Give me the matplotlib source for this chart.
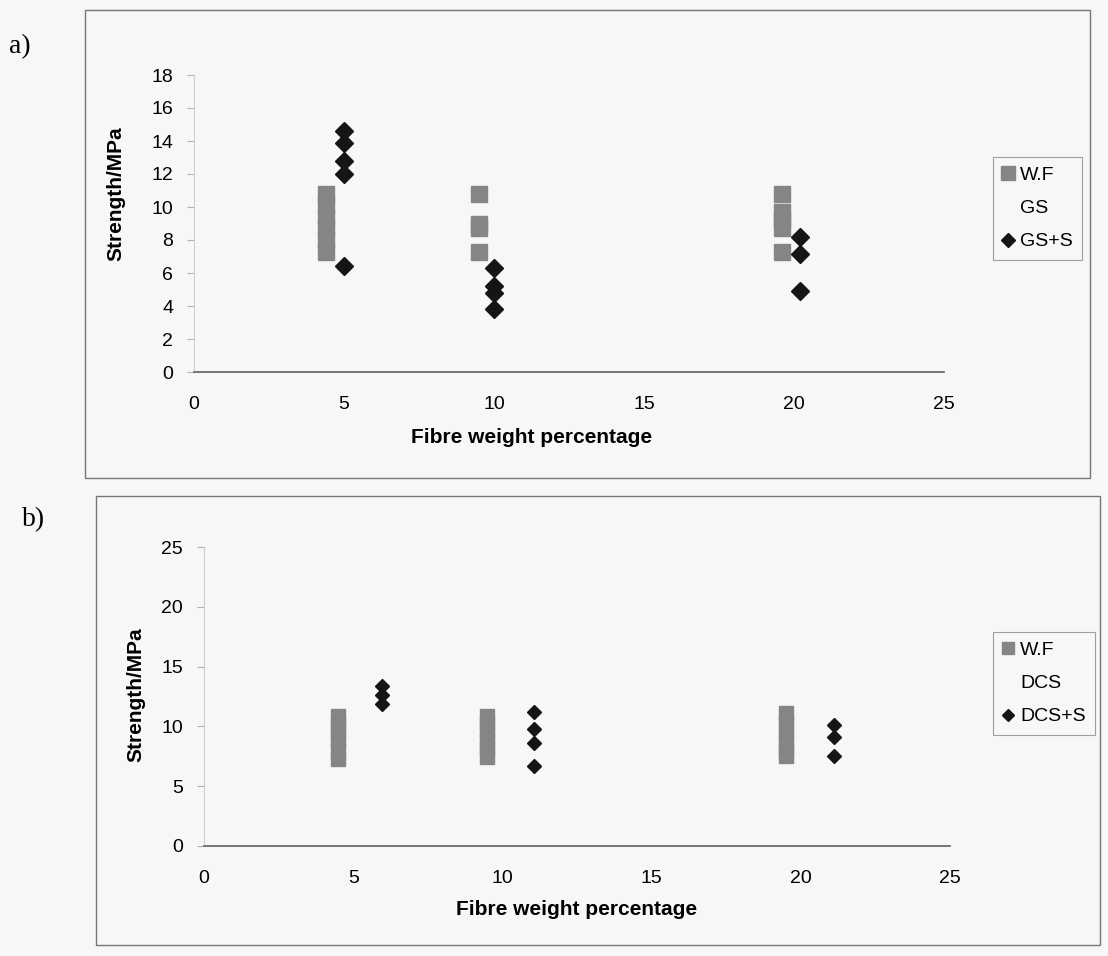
import matplotlib.pyplot as plt
from matplotlib.patches import Rectangle

plt.rcParams['font.family'] = ['Liberation Sans', 'DejaVu Sans']

W, H = 1108, 956

# panel a) - untreated fibre vs GS treated
a_wf_pos = [4.4, 9.5, 19.6]
a_wf_vals = [[10.8, 10.1, 9.4, 8.7, 8.0, 7.3],
             [10.8, 9.0, 8.7, 7.25],
             [10.8, 9.7, 9.2, 8.7, 7.25]]
a_gs_pos = []
a_gs_vals = []
a_gss_pos = [5.0, 10.0, 20.2]
a_gss_vals = [[14.6, 13.9, 12.8, 12.0, 6.4],
              [6.3, 5.2, 4.8, 3.8],
              [8.2, 7.15, 4.9]]

# panel b) - untreated fibre vs DCS treated
b_wf_pos = [4.5, 9.5, 19.5]
b_wf_vals = [[10.9, 10.2, 9.5, 8.8, 8.0, 7.3],
             [10.9, 10.2, 9.5, 8.8, 8.1, 7.4],
             [11.1, 10.3, 9.5, 8.7, 8.0, 7.5]]
b_dcs_pos = []
b_dcs_vals = []
b_dcss_pos = [5.95, 11.05, 21.1]
b_dcss_vals = [[13.4, 12.6, 11.9],
               [11.2, 9.8, 8.6, 6.7],
               [10.1, 9.1, 7.5]]

a_yticks = list(range(0, 19, 2))
b_yticks = list(range(0, 26, 5))
xticks = list(range(0, 26, 5))


def flat(pos, vals):
    xs, ys = [], []
    for p, v in zip(pos, vals):
        xs += [p] * len(v)
        ys += v
    return xs, ys


def fx(px):
    return px / W


def fy(py):
    return 1 - py / H


def box(fig, x0, y0, x1, y1):
    fig.patches.append(Rectangle((fx(x0), fy(y1)), fx(x1) - fx(x0), fy(y0) - fy(y1),
                                 transform=fig.transFigure, fill=False,
                                 edgecolor='#777777', lw=1.0))


def panel(fig, rect, wf, mid, treated, names, yticks, ylim, sq, dm, ylab_xy, xlab_xy, leg_xy):
    ax = fig.add_axes(rect)
    ax.patch.set_alpha(0)
    x, y = flat(*wf)
    ax.plot(x, y, ls='none', marker='s', ms=sq, mfc='#858585', mec='#858585',
            label=names[0])
    x, y = flat(*mid)
    ax.plot(x, y, ls='none', marker='none', label=names[1])
    x, y = flat(*treated)
    ax.plot(x, y, ls='none', marker='D', ms=dm, mfc='#151515', mec='#151515',
            label=names[2])
    ax.set_xlim(0, 25)
    ax.set_ylim(*ylim)
    ax.set_xticks(xticks)
    ax.set_yticks(yticks)
    for s in ['top', 'right']:
        ax.spines[s].set_visible(False)
    ax.spines['left'].set_color('#d0d0d0')
    ax.spines['bottom'].set_color('#606060')
    ax.spines['bottom'].set_linewidth(1.2)
    ax.tick_params(axis='x', length=0, pad=17, labelsize=14)
    ax.tick_params(axis='y', length=5, color='#b0b0b0', pad=10, labelsize=14)
    ax.set_ylabel('Strength/MPa', fontsize=15, fontweight='bold')
    ax.set_xlabel('Fibre weight percentage', fontsize=15, fontweight='bold')
    ax.yaxis.set_label_coords(*ylab_xy)
    ax.xaxis.set_label_coords(*xlab_xy)
    leg = ax.legend(loc='upper left', bbox_to_anchor=leg_xy,
                    bbox_transform=fig.transFigure, fontsize=14, frameon=True,
                    fancybox=False, edgecolor='#888888', handlelength=0.6,
                    handletextpad=0.3, borderpad=0.5, labelspacing=0.8,
                    markerscale=0.8)
    leg.get_frame().set_linewidth(0.8)
    leg.get_frame().set_facecolor('none')
    return ax


fig = plt.figure(figsize=(W / 100, H / 100), dpi=100, facecolor='#f7f7f7')

box(fig, 85, 10, 1090, 478)
box(fig, 96, 496, 1100, 945)

panel(fig, [fx(194), fy(372), fx(944) - fx(194), fy(75) - fy(372)],
      (a_wf_pos, a_wf_vals), (a_gs_pos, a_gs_vals), (a_gss_pos, a_gss_vals),
      ['W.F', 'GS', 'GS+S'], a_yticks, (0, 18), 12, 8.7,
      (-0.091, 0.60), (0.45, -0.19), (fx(983), fy(147)))

panel(fig, [fx(204), fy(846), fx(950) - fx(204), fy(547) - fy(846)],
      (b_wf_pos, b_wf_vals), (b_dcs_pos, b_dcs_vals), (b_dcss_pos, b_dcss_vals),
      ['W.F', 'DCS', 'DCS+S'], b_yticks, (0, 25), 10, 7.5,
      (-0.078, 0.505), (0.50, -0.18), (fx(983), fy(622)))

fig.text(fx(20), fy(47), 'a)', family='Liberation Serif', fontsize=20,
         ha='center', va='center')
fig.text(fx(34), fy(520), 'b)', family='Liberation Serif', fontsize=20,
         ha='center', va='center')

plt.savefig('out.png', dpi=100, facecolor=fig.get_facecolor())
